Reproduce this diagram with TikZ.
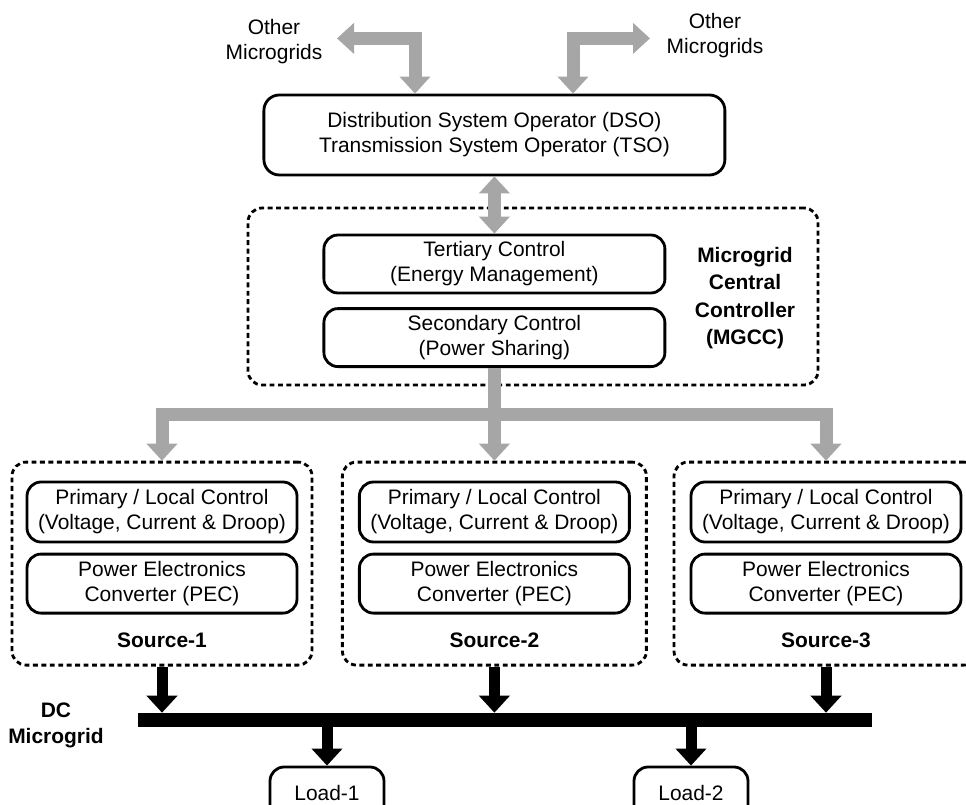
\documentclass[tikz,border=0pt]{standalone}
\usepackage{fontspec}
\setmainfont{Liberation Sans}
\usetikzlibrary{arrows.meta}

\definecolor{linkgray}{HTML}{A6A6A6}

\begin{document}
\begin{tikzpicture}[
    >={Triangle[width=0.75cm, length=0.425cm]},
    font=\fontsize{14.9}{17.8}\selectfont,
    % Styles
    ctrlbox/.style={
        rectangle, rounded corners=10pt,
        draw=black, line width=2pt, align=center,
        inner sep=0pt, minimum width=8.525cm, minimum height=1.45cm
    },
    groupbox/.style={
        rectangle, rounded corners=10pt,
        draw=black, line width=2pt, dash pattern=on 3.5pt off 2.5pt,
        inner sep=0pt, minimum height=5.075cm
    },
    grayarrow/.style={draw=linkgray, line width=0.325cm, line join=miter},
    blackarrow/.style={draw=black, line width=0.275cm, ->},
    boldlabel/.style={font=\bfseries\fontsize{14.9}{19.5}\selectfont, align=center},
]

\useasboundingbox (0,0) rectangle (24.15,-20.125);

%--- Operators ---%
\node[ctrlbox, minimum width=11.525cm, minimum height=2cm, rounded corners=11pt]
    (dso) at (12.36,-3.375) {Distribution System Operator (DSO)\\Transmission System Operator (TSO)};

\node[align=center] (omg1) at (6.85,-1.03) {Other\\Microgrids};
\node[align=center] (omg2) at (17.875,-0.88) {Other\\Microgrids};

% grey links to the neighbouring microgrids
\coordinate (omg1tip)  at (8.425,-0.96);
\coordinate (omg1drop) at (10.375,-0.96);
\coordinate (omg2tip)  at (16.25,-0.96);
\coordinate (omg2drop) at (14.325,-0.96);

%--- MGCC ---%
\node[groupbox, minimum width=14.25cm, minimum height=4.425cm] (mgcc) at (13.325,-7.4125) {};
\node[ctrlbox] (tert) at (12.36,-6.6)  {Tertiary Control\\(Energy Management)};
\node[ctrlbox] (sec)  at (12.36,-8.44) {Secondary Control\\(Power Sharing)};
\node[boldlabel] (mgcclabel) at (18.625,-7.45) {Microgrid\\Central\\Controller\\(MGCC)};

%--- Sources ---%
\node[groupbox, minimum width=7.5cm] (src1) at (4.05,-14.09)  {};
\node[groupbox, minimum width=7.6cm] (src2) at (12.36,-14.09) {};
\node[groupbox, minimum width=7.6cm] (src3) at (20.65,-14.09) {};

\node[ctrlbox, minimum width=6.75cm, minimum height=1.5cm] (prim1) at (4.05,-12.8)  {Primary / Local Control\\(Voltage, Current \& Droop)};
\node[ctrlbox, minimum width=6.75cm, minimum height=1.5cm] (prim2) at (12.36,-12.8) {Primary / Local Control\\(Voltage, Current \& Droop)};
\node[ctrlbox, minimum width=6.75cm, minimum height=1.5cm] (prim3) at (20.65,-12.8) {Primary / Local Control\\(Voltage, Current \& Droop)};

\node[ctrlbox, minimum width=6.75cm, minimum height=1.475cm] (pec1) at (4.05,-14.59)  {Power Electronics\\Converter (PEC)};
\node[ctrlbox, minimum width=6.75cm, minimum height=1.475cm] (pec2) at (12.36,-14.59) {Power Electronics\\Converter (PEC)};
\node[ctrlbox, minimum width=6.75cm, minimum height=1.475cm] (pec3) at (20.65,-14.59) {Power Electronics\\Converter (PEC)};

\node[boldlabel] (src1label) at (4.05,-16.0)  {Source-1};
\node[boldlabel] (src2label) at (12.36,-16.0) {Source-2};
\node[boldlabel] (src3label) at (20.65,-16.0) {Source-3};

%--- DC bus and loads ---%
\node[fill=black, inner sep=0pt, minimum width=18.35cm, minimum height=0.35cm] (bus) at (12.625,-18.0) {};
\node[boldlabel, font=\bfseries\fontsize{14.9}{18.5}\selectfont] (dclabel) at (1.4,-18.125) {DC\\Microgrid};

\node[ctrlbox, minimum width=2.85cm, minimum height=1.3cm] (load1) at (8.175,-19.825)  {Load-1};
\node[ctrlbox, minimum width=2.85cm, minimum height=1.3cm] (load2) at (17.275,-19.825) {Load-2};

%--- Grey links ---%
\draw[grayarrow, <->] (omg1tip) -- (omg1drop) -- (omg1drop |- dso.north);
\draw[grayarrow, <->] (omg2tip) -- (omg2drop) -- (omg2drop |- dso.north);
\draw[grayarrow, <->] (dso.south) -- (tert.north);

\coordinate (split) at (12.36,-10.35);
\draw[grayarrow, ->] (sec.south) -- (split) -| (src1.north);
\draw[grayarrow, ->] (sec.south) -- (split) -| (src3.north);
\draw[grayarrow, ->] (sec.south) -- (src2.north);

%--- Power flow ---%
\draw[blackarrow] (src1.south) -- (src1.south |- bus.north);
\draw[blackarrow] (src2.south) -- (src2.south |- bus.north);
\draw[blackarrow] (src3.south) -- (src3.south |- bus.north);

\draw[blackarrow] (load1.north |- bus.south) -- (load1.north);
\draw[blackarrow] (load2.north |- bus.south) -- (load2.north);

\end{tikzpicture}
\end{document}
